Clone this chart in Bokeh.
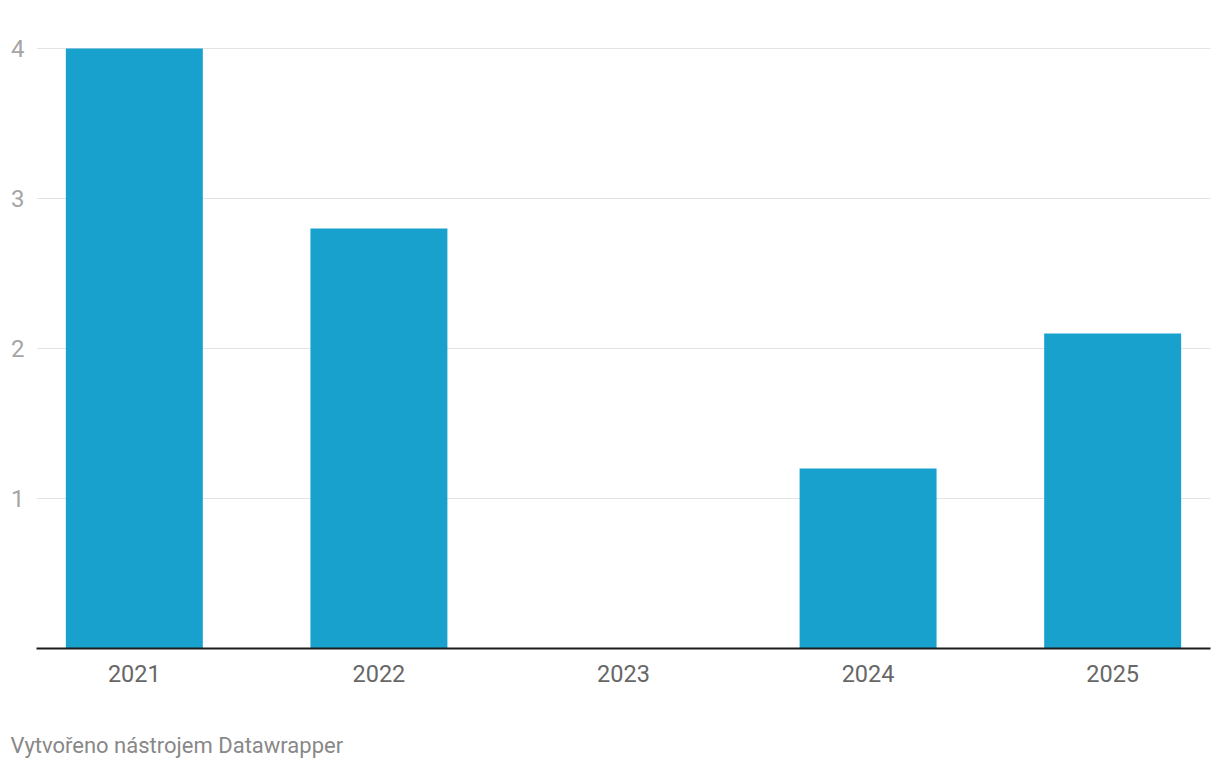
from bokeh.plotting import figure
from bokeh.models import Range1d, FixedTicker, Title
from bokeh.embed import file_html
from bokeh.resources import INLINE

years = ["2021", "2022", "2023", "2024", "2025"]
values = [4.0, 2.8, 0.0, 1.2, 2.1]
y_ticks = [1, 2, 3, 4]
footer = "Vytvořeno nástrojem Datawrapper"

xs = list(range(len(years)))

p = figure(width=1220, height=770, output_backend="svg", toolbar_location=None,
           x_range=Range1d(-0.4, 4.4), y_range=Range1d(0, 4 + 8 / 150),
           min_border_left=36, min_border_right=10, min_border_top=40, min_border_bottom=122)
p.outline_line_color = None
p.background_fill_color = "white"
p.border_fill_color = "white"

p.vbar(x=xs, top=values, bottom=0, width=0.56, color="#18a1cd", line_color=None)

# x axis
p.xaxis.ticker = FixedTicker(ticks=xs)
p.xaxis.major_label_overrides = {i: y for i, y in enumerate(years)}
p.xaxis.axis_line_color = "#1d1d1d"
p.xaxis.axis_line_width = 2
p.xaxis.major_tick_line_color = None
p.xaxis.major_tick_out = 0
p.xaxis.major_tick_in = 0
p.xaxis.minor_tick_line_color = None
p.xaxis.major_label_text_font = "Roboto"
p.xaxis.major_label_text_font_size = "23.5px"
p.xaxis.major_label_text_color = "#676767"
p.xaxis.major_label_standoff = 16
p.xgrid.grid_line_color = None

# y axis
p.yaxis.ticker = FixedTicker(ticks=y_ticks)
p.yaxis.axis_line_color = None
p.yaxis.major_tick_line_color = None
p.yaxis.major_tick_out = 0
p.yaxis.major_tick_in = 0
p.yaxis.minor_tick_line_color = None
p.yaxis.major_label_text_font = "Roboto"
p.yaxis.major_label_text_font_size = "24px"
p.yaxis.major_label_text_color = "#a5a5a5"
p.yaxis.major_label_standoff = 12
p.ygrid.grid_line_color = "#e3e3e3"
p.ygrid.grid_line_width = 1

# spacer between the axis labels and the footer
spacer = Title(text=" ", text_font="Roboto", text_font_size="10px", standoff=22)
p.add_layout(spacer, "below")

t = Title(text=footer, align="left", text_font="Roboto", text_font_size="22px",
          text_font_style="normal", text_color="#888888", offset=-26, standoff=22,
          vertical_align="bottom")
p.add_layout(t, "below")

open("out.html", "w").write(file_html(p, INLINE))
